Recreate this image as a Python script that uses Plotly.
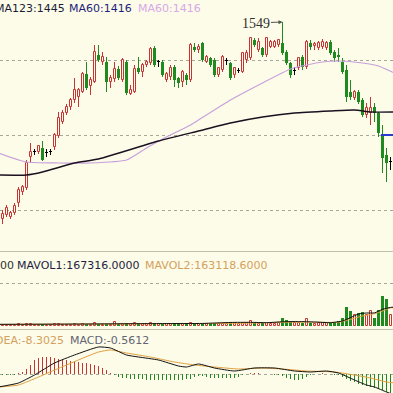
import plotly.graph_objects as go

# ---------------- data ----------------
opens = [1352, 1356, 1354, 1358, 1368, 1379, 1383, 1414, 1419, 1419,
         1423, 1418, 1419, 1424, 1435, 1449, 1458, 1464, 1471, 1474,
         1479, 1497, 1485, 1489, 1516, 1509, 1509, 1489, 1492, 1502,
         1491, 1509, 1477, 1479, 1503, 1499, 1506, 1508, 1523, 1509,
         1509, 1491, 1494, 1504, 1493, 1489, 1496, 1491, 1524, 1521,
         1528, 1509, 1513, 1511, 1496, 1501, 1510, 1508, 1496, 1500,
         1499, 1511, 1513, 1531, 1521, 1523, 1516, 1524, 1524, 1526,
         1528, 1519, 1508, 1500, 1503, 1514, 1504, 1528, 1525, 1523,
         1524, 1523, 1529, 1519, 1516, 1509, 1501, 1479, 1473, 1479,
         1471, 1456, 1458, 1464, 1458, 1436, 1416, 1409]
highs = [1361, 1366, 1360, 1368, 1384, 1386, 1411, 1428, 1422, 1426,
         1430, 1422, 1422, 1438, 1459, 1461, 1467, 1473, 1493, 1483,
         1499, 1509, 1494, 1526, 1526, 1519, 1514, 1496, 1509, 1505,
         1513, 1511, 1486, 1506, 1514, 1508, 1511, 1524, 1525, 1511,
         1511, 1499, 1506, 1506, 1494, 1501, 1498, 1528, 1528, 1527,
         1529, 1516, 1514, 1513, 1504, 1516, 1513, 1509, 1504, 1503,
         1519, 1521, 1534, 1533, 1533, 1524, 1534, 1531, 1531, 1532,
         1549, 1521, 1509, 1504, 1514, 1516, 1531, 1531, 1529, 1530,
         1532, 1530, 1531, 1521, 1523, 1513, 1506, 1491, 1481, 1481,
         1473, 1468, 1474, 1468, 1459, 1446, 1423, 1414]
lows = [1347, 1354, 1352, 1356, 1364, 1376, 1381, 1408, 1416, 1417,
        1410, 1414, 1416, 1421, 1433, 1447, 1456, 1461, 1468, 1464,
        1478, 1481, 1476, 1488, 1509, 1506, 1479, 1483, 1489, 1491,
        1489, 1476, 1476, 1478, 1497, 1494, 1504, 1506, 1504, 1504,
        1494, 1489, 1491, 1484, 1483, 1484, 1486, 1489, 1519, 1518,
        1509, 1508, 1504, 1494, 1494, 1499, 1506, 1491, 1493, 1498,
        1498, 1508, 1511, 1524, 1519, 1514, 1514, 1523, 1523, 1524,
        1516, 1506, 1493, 1496, 1501, 1501, 1502, 1521, 1521, 1521,
        1522, 1521, 1516, 1509, 1509, 1497, 1469, 1471, 1471, 1467,
        1454, 1453, 1446, 1449, 1434, 1398, 1389, 1401]
closes = [1357, 1363, 1358, 1365, 1381, 1384, 1408, 1419, 1419, 1425,
          1411, 1418, 1419, 1436, 1453, 1458, 1464, 1471, 1481, 1481,
          1497, 1483, 1491, 1519, 1511, 1514, 1489, 1493, 1502, 1493,
          1511, 1478, 1481, 1502, 1499, 1506, 1509, 1522, 1506, 1509,
          1496, 1497, 1503, 1491, 1488, 1499, 1491, 1526, 1521, 1524,
          1511, 1514, 1506, 1496, 1503, 1514, 1510, 1493, 1503, 1500,
          1518, 1518, 1533, 1526, 1529, 1516, 1533, 1529, 1529, 1531,
          1518, 1508, 1496, 1500, 1513, 1504, 1529, 1524, 1527, 1528,
          1529, 1528, 1518, 1513, 1514, 1499, 1474, 1474, 1479, 1469,
          1456, 1463, 1463, 1458, 1438, 1413, 1408, 1409]

volumes = [9800, 8600, 10400, 9100, 17800, 11300, 19500, 16800, 9400, 10200,
           18600, 9700, 8800, 17200, 19900, 11800, 10600, 9300, 18400, 12100,
           17600, 19300, 10900, 27400, 16900, 11200, 18300, 10100, 34800, 17400,
           18700, 26800, 16300, 27900, 18100, 17600, 16400, 25300, 27100, 15800,
           17900, 16800, 18200, 26400, 17300, 16900, 18600, 27800, 16500, 17800,
           26100, 18300, 16900, 25800, 17400, 18800, 16200, 36400, 26900, 17100,
           27300, 25800, 44600, 26200, 17900, 26700, 27400, 17600, 18100, 26900,
           71800, 53400, 44900, 26300, 27800, 26100, 62400, 25700, 17900, 26800,
           27200, 26400, 35900, 36800, 44100, 71500, 169300, 134800, 98600, 117200,
           126400, 99800, 135700, 72300, 143900, 268500, 243100, 98700]

macd_hist = [-1, -1, -1, -1, 1, 2, 5, 9, 14, 16,
             17, 17, 17, 16, 15, 14, 14, 13, 13, 12,
             11, 11, 10, 9, 8, 6, 4, 1, -1, -3,
             -4, -4, -5, -5, -5, -5, -6, -6, -6, -6,
             -6, -6, -6, -6, -6, -6, -5, -5, -3, -2,
             -2, -3, -4, -4, -4, -4, -4, -4, -4, -3,
             -1, 0, 1, 1, 1, 0, 0, 0, -1, -1,
             -2, -4, -5, -6, -6, -5, -3, -1, 0, 0,
             1, 0, 0, -1, -1, -3, -5, -7, -8, -10,
             -11, -12, -13, -14, -15, -16, -18, -19]

ma_pink_idx = [-1, 6, 14, 22, 31, 36, 40, 47, 49, 57, 65, 72, 76, 80, 84, 90, 94, 98]
ma_pink_val = [1418, 1409, 1408, 1408, 1411, 1423, 1432, 1446, 1451, 1471, 1488, 1502,
               1506, 1509, 1510, 1508, 1505, 1498]
ma_black_idx = [-1, 6, 10, 18, 24, 39, 49, 57, 65, 73, 82, 88, 92, 98]
ma_black_val = [1396, 1396, 1399, 1408, 1412, 1430, 1440, 1448, 1454, 1458, 1460, 1461, 1459, 1459]
blue_level = 1436
blue_idx = [94.6, 98]

mavol1_idx = [-1, 20, 40, 50, 57, 62, 66, 70, 74, 78, 82, 85, 87, 89, 91, 93, 95, 97, 98]
mavol1_val = [15000, 18000, 22000, 23000, 32000, 33000, 30000, 38000, 40000, 36000, 30000,
              45000, 75000, 108000, 117000, 118000, 150000, 167316, 170000]
mavol2_idx = [-1, 20, 40, 60, 70, 78, 84, 86, 88, 90, 93, 95, 97, 98]
mavol2_val = [14000, 17000, 21000, 25000, 33000, 35000, 33000, 50000, 70000, 90000,
              110000, 135000, 163118, 165000]

dif_idx = [-1, 4, 8, 13, 18, 24, 27, 31, 34, 39, 44, 46, 49, 53, 58, 63, 68, 73, 77, 81, 84, 88, 91, 93, 96, 98]
dif_val = [-13, -9, -1, 11, 19, 27, 26, 19, 17, 14, 8, 7, 10, 6, 3, 6, 6, 3, 2, 3, 1, -6, -11, -13, -18, -21]
dea_idx = [-1, 4, 9, 16, 24, 27, 31, 37, 43, 48, 53, 59, 65, 70, 76, 83, 88, 92, 96, 98]
dea_val = [-13, -11, -3, 9, 22, 24, 21, 17, 12, 9, 7, 5, 6, 5, 3, 2, -1, -4, -8, -9]

price_grid = [1361, 1436, 1511]
vol_grid = [387000]

top_labels = [("MA123:1445", -6.5, "#1c1c38"), ("MA60:1416", 68, "#1e1e7a"), ("MA60:1416", 137, "#d8a8e8")]
vol_labels = [("00", -1, "#303030"), ("MAVOL1:167316.0000", 15.5, "#1e1e44"), ("MAVOL2:163118.6000", 144, "#d4a060")]
macd_labels = [("DEA:-8.3025", -6, "#d4a060"), ("MACD:-0.5612", 69, "#646474")]
peak_text = "1549"
peak_index = 70

# ---------------- style ----------------
W = H = 393
BG = "#fcfce8"
RED = "#c83434"
GREEN = "#1f8a1f"
BLACK = "#000000"
GRID = "#a8a898"
FONT = "DejaVu Sans"

MAIN_TOP, MAIN_BOT = 0, 251
VOL_TOP, VOL_BOT = 251, 326
MACD_TOP = 330


def fy(py):
    return 1 - py / H


n = len(opens)
idx = list(range(n))
up = [c > o for o, c in zip(opens, closes)]
down = [c < o for o, c in zip(opens, closes)]
flat = [c == o for o, c in zip(opens, closes)]
dir_color = [RED if u else (GREEN if d else BLACK) for u, d in zip(up, down)]

fig = go.Figure()

# wicks
fig.add_trace(go.Bar(x=idx, base=lows, y=[h - l for h, l in zip(highs, lows)], width=0.25,
                     marker=dict(color=dir_color, line=dict(width=0)), xaxis="x", yaxis="y"))
# red hollow bodies
ri = [i for i in idx if up[i]]
fig.add_trace(go.Bar(x=ri, base=[opens[i] for i in ri], y=[closes[i] - opens[i] for i in ri], width=0.5,
                     marker=dict(color=BG, line=dict(color=RED, width=1)), xaxis="x", yaxis="y"))
# green bodies
gi = [i for i in idx if down[i]]
fig.add_trace(go.Bar(x=gi, base=[closes[i] for i in gi], y=[opens[i] - closes[i] for i in gi], width=0.75,
                     marker=dict(color=GREEN, line=dict(width=0)), xaxis="x", yaxis="y"))
# doji bodies
di = [i for i in idx if flat[i]]
fig.add_trace(go.Bar(x=di, base=[opens[i] for i in di], y=[1] * len(di), width=0.75,
                     marker=dict(color=BLACK, line=dict(width=0)), xaxis="x", yaxis="y"))

# moving averages
fig.add_trace(go.Scatter(x=ma_pink_idx, y=ma_pink_val, mode="lines",
                         line=dict(color="#c8a0dc", width=1.2, shape="spline", smoothing=0.5),
                         xaxis="x", yaxis="y"))
fig.add_trace(go.Scatter(x=ma_black_idx, y=ma_black_val, mode="lines",
                         line=dict(color="#1a1020", width=1.4, shape="spline", smoothing=0.5),
                         xaxis="x", yaxis="y"))
fig.add_trace(go.Scatter(x=blue_idx, y=[blue_level] * len(blue_idx), mode="lines",
                         line=dict(color="#2a3ccc", width=2), xaxis="x", yaxis="y"))

# volume
vr = [i for i in idx if not down[i]]
fig.add_trace(go.Bar(x=vr, y=[volumes[i] for i in vr], width=0.5,
                     marker=dict(color=BG, line=dict(color=RED, width=1)), xaxis="x2", yaxis="y2"))
vg = [i for i in idx if down[i]]
fig.add_trace(go.Bar(x=vg, y=[volumes[i] for i in vg], width=0.75,
                     marker=dict(color=GREEN, line=dict(width=0)), xaxis="x2", yaxis="y2"))
fig.add_trace(go.Scatter(x=mavol2_idx, y=mavol2_val, mode="lines",
                         line=dict(color="#e0a040", width=1, shape="spline", smoothing=0.5),
                         xaxis="x2", yaxis="y2"))
fig.add_trace(go.Scatter(x=mavol1_idx, y=mavol1_val, mode="lines",
                         line=dict(color="#101010", width=1, shape="spline", smoothing=0.5),
                         xaxis="x2", yaxis="y2"))

# MACD
fig.add_trace(go.Bar(x=idx, y=macd_hist, width=0.25,
                     marker=dict(color=[RED if v > 0 else GREEN for v in macd_hist], line=dict(width=0)),
                     xaxis="x3", yaxis="y3"))
fig.add_trace(go.Scatter(x=dea_idx, y=dea_val, mode="lines",
                         line=dict(color="#e0a040", width=1, shape="spline", smoothing=0.5),
                         xaxis="x3", yaxis="y3"))
fig.add_trace(go.Scatter(x=dif_idx, y=dif_val, mode="lines",
                         line=dict(color="#101010", width=1, shape="spline", smoothing=0.5),
                         xaxis="x3", yaxis="y3"))

xr = [-0.625, -0.625 + W / 4.0]
xcommon = dict(range=xr, visible=False, showgrid=False, zeroline=False, fixedrange=True)
ycommon = dict(showgrid=True, gridcolor=GRID, griddash="dot", gridwidth=1, showticklabels=False,
               ticks="", zeroline=False, showline=False, fixedrange=True)

annotations = []
for txt, px, col in top_labels:
    annotations.append(dict(text=txt, x=px / W, y=fy(8.5), xref="paper", yref="paper", xanchor="left",
                            yanchor="middle", showarrow=False, borderpad=0,
                            font=dict(family=FONT, size=11, color=col)))
for txt, px, col in vol_labels:
    annotations.append(dict(text=txt, x=px / W, y=fy(265), xref="paper", yref="paper", xanchor="left",
                            yanchor="middle", showarrow=False, borderpad=0,
                            font=dict(family=FONT, size=11, color=col)))
for txt, px, col in macd_labels:
    annotations.append(dict(text=txt, x=px / W, y=fy(340), xref="paper", yref="paper", xanchor="left",
                            yanchor="middle", showarrow=False, borderpad=0,
                            font=dict(family=FONT, size=11, color=col)))
annotations.append(dict(text=peak_text, x=peak_index, y=highs[peak_index], xref="x", yref="y",
                        showarrow=True, ax=-27, ay=1, arrowhead=2, arrowsize=0.8, arrowwidth=1,
                        arrowcolor="#505050", standoff=0,
                        font=dict(family="Liberation Serif", size=14, color="#303030")))

shapes = [
    dict(type="line", xref="paper", yref="paper", x0=0, x1=1, y0=fy(251.5), y1=fy(251.5),
         line=dict(color="#c0c0b0", width=1)),
    dict(type="line", xref="paper", yref="paper", x0=0, x1=1, y0=fy(329.5), y1=fy(329.5),
         line=dict(color="#c0c0b0", width=1)),
]

fig.update_layout(
    width=W, height=H, autosize=False,
    margin=dict(l=0, r=0, t=0, b=0, pad=0),
    paper_bgcolor=BG, plot_bgcolor=BG,
    showlegend=False, barmode="overlay", bargap=0, bargroupgap=0,
    xaxis=dict(domain=[0, 1], anchor="y", **xcommon),
    xaxis2=dict(domain=[0, 1], anchor="y2", matches="x", **xcommon),
    xaxis3=dict(domain=[0, 1], anchor="y3", matches="x", **xcommon),
    yaxis=dict(domain=[fy(MAIN_BOT), fy(MAIN_TOP)], range=[1571 - MAIN_BOT, 1571 - MAIN_TOP],
               tickvals=price_grid, anchor="x", **ycommon),
    yaxis2=dict(domain=[fy(VOL_BOT), fy(VOL_TOP)], range=[0, (VOL_BOT - VOL_TOP) * 9000],
                tickvals=vol_grid, anchor="x2", **ycommon),
    yaxis3=dict(domain=[0, fy(MACD_TOP)], range=[-(H - 374), 374 - MACD_TOP],
                tickvals=[0], anchor="x3", **ycommon),
    annotations=annotations,
    shapes=shapes,
    hovermode=False,
)

fig.write_html("out.html", config=dict(displayModeBar=False, staticPlot=False),
               post_script="document.body.style.margin='0';document.body.style.overflow='hidden';")
